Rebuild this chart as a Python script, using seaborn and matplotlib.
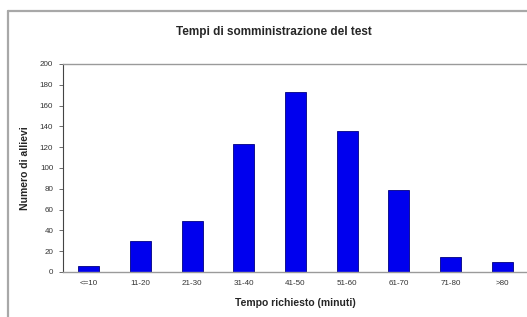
import matplotlib
matplotlib.use("Agg")
import matplotlib.pyplot as plt
import seaborn as sns
import pandas as pd
from matplotlib.lines import Line2D

# data
categories = ["<=10", "11-20", "21-30", "31-40", "41-50", "51-60", "61-70", "71-80", ">80"]
students = [6, 30, 49, 123, 173, 136, 79, 14, 10]
y_ticks = list(range(0, 201, 20))

df = pd.DataFrame({"tempo": categories, "allievi": students})

sns.set_style("white")
plt.rcParams["font.family"] = ["Liberation Sans", "DejaVu Sans"]

W, H = 527, 317
fig = plt.figure(figsize=(W / 100, H / 100), dpi=100)
fig.patch.set_facecolor("white")

# excel-like chart area border (top and left visible)
fig.add_artist(Line2D([8 / W, 8 / W], [0, 1 - 11 / H], transform=fig.transFigure,
                      color="#a8a8a8", lw=1.6))
fig.add_artist(Line2D([8 / W, 1], [1 - 11 / H, 1 - 11 / H], transform=fig.transFigure,
                      color="#a8a8a8", lw=1.6))

left, right = 63 / W, 528 / W
bottom, top = 1 - 272 / H, 1 - 64 / H
ax = fig.add_axes([left, bottom, right - left, top - bottom])

sns.barplot(data=df, x="tempo", y="allievi", color="#0000ee", width=0.41,
            edgecolor="#000080", linewidth=0.6, saturation=1, ax=ax)

ax.set_ylim(0, 200)
ax.set_xlim(-0.5, len(categories) - 0.5)
ax.set_yticks(y_ticks)
ax.set_yticklabels([str(v) for v in y_ticks], fontsize=5.8, color="#333333")
ax.set_xticks(range(len(categories)))
ax.set_xticklabels(categories, fontsize=5.8, color="#333333")
ax.tick_params(axis="y", direction="out", length=3, width=0.6, color="#555555", pad=4, left=True)
ax.tick_params(axis="x", length=0, pad=6)
ax.set_xticks([i + 0.5 for i in range(len(categories) - 1)], minor=True)
ax.tick_params(axis="x", which="minor", direction="out", length=2.5, width=0.6, color="#888888")

for side in ["top", "right", "bottom"]:
    ax.spines[side].set_color("#9a9a9a")
    ax.spines[side].set_linewidth(1.0)
ax.spines["left"].set_color("#444444")
ax.spines["left"].set_linewidth(0.8)

ax.set_ylabel("Numero di allievi", fontsize=7.5, fontweight="bold")
ax.set_xlabel("Tempo richiesto (minuti)", fontsize=7.5, fontweight="bold")
ax.yaxis.set_label_coords(-33 / 465, 0.5)
ax.xaxis.set_label_coords(0.5, -26 / 208)
fig.text(274 / W, 1 - 32 / H, "Tempi di somministrazione del test",
         ha="center", va="center", fontsize=8.5, fontweight="bold")

fig.savefig("out.png", dpi=100)
